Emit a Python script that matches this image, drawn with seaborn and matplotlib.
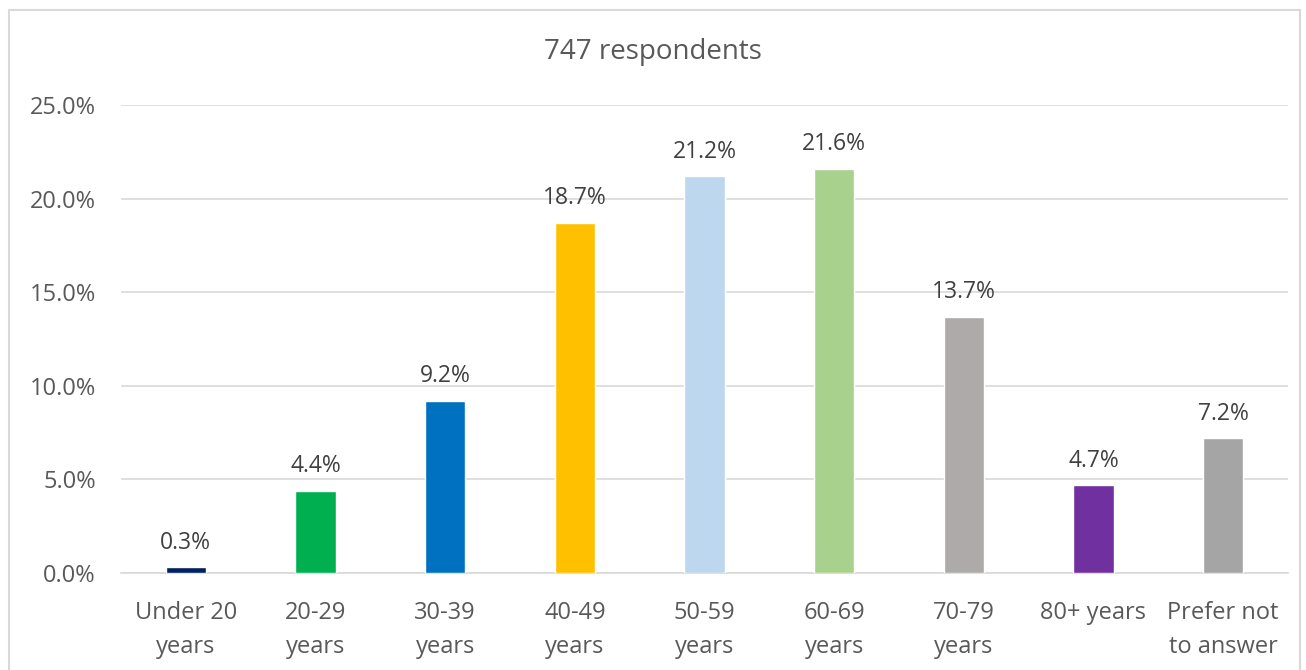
import matplotlib
matplotlib.use("Agg")
import matplotlib.pyplot as plt
import seaborn as sns
import pandas as pd
from matplotlib.patches import Rectangle

# --- Datos ---
categorias = ["Under 20\nyears", "20-29\nyears", "30-39\nyears", "40-49\nyears",
              "50-59\nyears", "60-69\nyears", "70-79\nyears", "80+ years",
              "Prefer not\nto answer"]
porcentajes = [0.3, 4.4, 9.2, 18.7, 21.2, 21.6, 13.7, 4.7, 7.2]
colores = ["#002060", "#00B050", "#0070C0", "#FFC000", "#BDD7EE",
           "#A9D18E", "#AEAAAA", "#7030A0", "#A5A5A5"]
titulo = "747 respondents"

df = pd.DataFrame({"cat": categorias, "pct": porcentajes})

sns.set_theme(style="white")
plt.rcParams["font.family"] = ["Open Sans", "DejaVu Sans"]
texto = "#595959"

fig = plt.figure(figsize=(13.06, 6.70), dpi=100)
ax = fig.add_axes([121 / 1306, 97 / 670, 1167 / 1306, 468 / 670])

sns.barplot(data=df, x="cat", y="pct", hue="cat", palette=colores,
            legend=False, width=0.31, saturation=1, ax=ax, zorder=3)

ax.set_ylim(0, 25)
ax.set_xlim(-0.5, len(categorias) - 0.5)
ax.set_yticks([0, 5, 10, 15, 20, 25])
ax.set_yticklabels([f"{v:.1f}%" for v in [0, 5, 10, 15, 20, 25]])
ax.yaxis.grid(True, color="#D9D9D9", linewidth=1.2, zorder=0)
ax.set_xlabel("")
ax.set_ylabel("")
for s in ["top", "right", "left"]:
    ax.spines[s].set_visible(False)
ax.spines["bottom"].set_color("#D9D9D9")
ax.spines["bottom"].set_linewidth(1.2)
ax.tick_params(axis="both", length=0, labelsize=17, colors=texto)
ax.tick_params(axis="y", pad=18)
ax.tick_params(axis="x", pad=20)
for lbl in ax.get_xticklabels():
    lbl.set_linespacing(1.55)

# etiquetas de valores
for i, v in enumerate(porcentajes):
    ax.annotate(f"{v:.1f}%", (i, v), xytext=(0, 9), textcoords="offset points",
                ha="center", va="bottom", fontsize=16.5, color="#404040")

fig.text(0.5, 1 - 52 / 670, titulo, ha="center", va="center",
         fontsize=20, color=texto)

# borde del gráfico
fig.patches.append(Rectangle((9 / 1306, -0.05), 1291 / 1306, 1.05 - 10 / 670,
                             transform=fig.transFigure, fill=False,
                             edgecolor="#D9D9D9", linewidth=1.5))

fig.savefig("out.png", dpi=100, facecolor="white")
